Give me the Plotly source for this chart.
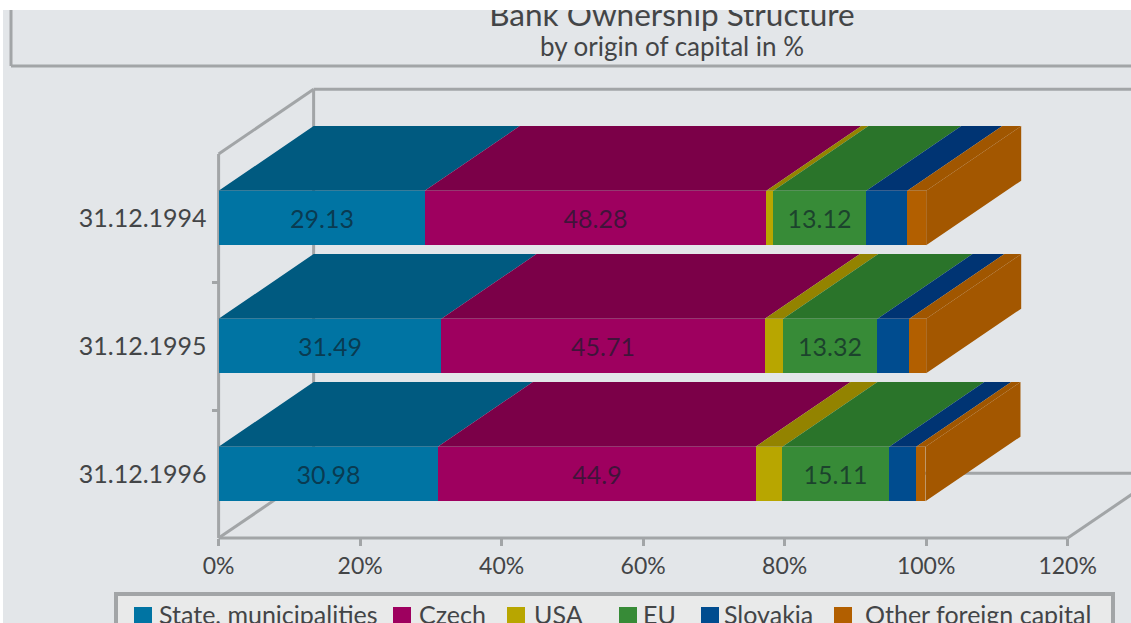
import plotly.graph_objects as go

# Reporting dates, top bar first
dates = ["31.12.1994", "31.12.1995", "31.12.1996"]

# Shares of bank capital by origin, in percent
state = [29.13, 31.49, 30.98]
czech = [48.28, 45.71, 44.9]
usa = [1.0, 2.6, 3.8]
eu = [13.12, 13.32, 15.11]
slovakia = [5.8, 4.5, 3.8]
other = [2.67, 2.38, 1.31]

series_names = ["State, municipalities", "Czech", "USA", "EU", "Slovakia", "Other foreign capital"]
series_values = [state, czech, usa, eu, slovakia, other]
labelled = [True, True, False, True, False, False]

front_colors = ["#0074A3", "#9E005F", "#B8A600", "#378B37", "#004C8F", "#B25F00"]
top_colors = ["#005A80", "#7B0048", "#938300", "#2A742A", "#003473", "#A05600"]
side_color = "#A35700"

x_ticks = [0, 20, 40, 60, 80, 100, 120]
x_tick_labels = ["0%", "20%", "40%", "60%", "80%", "100%", "120%"]

FONT = "Lato"
TEXT = "#434547"
GREY = "#A2A5A7"
BG = "#E3E6E9"

WIDTH, HEIGHT = 1131, 623
LEFT, TOP = 3, 10

# Axis windows: 7.075 px per percent, 128 px per category band
X_RANGE = [-30.47, 128.95]
Y_RANGE = [-1.164, 3.625]

# Oblique projection of the depth direction, in axis units
DEPTH_X = 13.43
DEPTH_Y = 0.505
BAR_WIDTH = 0.426
FLOOR, CEILING = -0.5, 2.5
X_MAX = 120

positions = [2, 1, 0]
half = BAR_WIDTH / 2


def polygons(corner_lists):
    xs, ys = [], []
    for corners in corner_lists:
        for cx, cy in corners + corners[:1]:
            xs.append(cx)
            ys.append(cy)
        xs.append(None)
        ys.append(None)
    return xs, ys


fig = go.Figure()

# Front faces are real stacked bars
for name, values, color, show in zip(series_names, series_values, front_colors, labelled):
    fig.add_trace(go.Bar(
        y=positions, x=values, orientation="h", width=BAR_WIDTH, name=name,
        marker=dict(color=color, line=dict(width=0)),
        text=[str(v) for v in values] if show else None,
        textposition="inside" if show else "none",
        insidetextanchor="middle", textangle=0, constraintext="none",
        textfont=dict(family=FONT, size=25, color="rgba(15,30,40,0.68)"),
        showlegend=False, hoverinfo="skip",
    ))

# Top faces follow the same cumulative values, shifted by the depth
starts = [0.0, 0.0, 0.0]
for name, values, color in zip(series_names, series_values, top_colors):
    corners = []
    for i, pos in enumerate(positions):
        a, b = starts[i], starts[i] + values[i]
        y = pos + half
        corners.append([(a, y), (b, y), (b + DEPTH_X, y + DEPTH_Y), (a + DEPTH_X, y + DEPTH_Y)])
        starts[i] = b
    xs, ys = polygons(corners)
    fig.add_trace(go.Scatter(
        x=xs, y=ys, mode="lines", fill="toself", fillcolor=color,
        line=dict(width=0), showlegend=False, hoverinfo="skip", name=name + " top",
    ))

# Right-hand end of each stack
corners = []
for i, pos in enumerate(positions):
    end = starts[i]
    corners.append([
        (end, pos - half), (end, pos + half),
        (end + DEPTH_X, pos + half + DEPTH_Y), (end + DEPTH_X, pos - half + DEPTH_Y),
    ])
xs, ys = polygons(corners)
fig.add_trace(go.Scatter(
    x=xs, y=ys, mode="lines", fill="toself", fillcolor=side_color,
    line=dict(width=0), showlegend=False, hoverinfo="skip", name="Stack end",
))

# Overlay in page pixels for the heading and the key, clipped at the plot edge
fig.add_trace(go.Scatter(
    x=[672, 672], y=[18, 49], xaxis="x2", yaxis="y2", mode="text",
    text=["Bank Ownership Structure", "by origin of capital in %"],
    textposition="middle center", cliponaxis=True,
    textfont=dict(family=FONT, size=[31.5, 26], color=TEXT),
    showlegend=False, hoverinfo="skip",
))

key_swatch_x = [143, 402, 516, 628, 710, 843]
key_text_x = [159, 419, 534, 643, 724, 865]
key_y = 616
fig.add_trace(go.Scatter(
    x=key_swatch_x, y=[key_y] * 6, xaxis="x2", yaxis="y2", mode="markers",
    marker=dict(symbol="square", size=18, color=front_colors, line=dict(width=0)),
    cliponaxis=True, showlegend=False, hoverinfo="skip",
))
fig.add_trace(go.Scatter(
    x=key_text_x, y=[key_y + 2] * 6, xaxis="x2", yaxis="y2", mode="text",
    text=series_names, textposition="middle right", cliponaxis=True,
    textfont=dict(family=FONT, size=25, color=TEXT),
    showlegend=False, hoverinfo="skip",
))

# The box walls sit behind every bar
wall = dict(type="line", xref="x", yref="y", layer="below", line=dict(color=GREY, width=3))
wall_segments = [
    (0, FLOOR, 0, CEILING),
    (0, FLOOR, X_MAX, FLOOR),
    (0, FLOOR, DEPTH_X, FLOOR + DEPTH_Y),
    (X_MAX, FLOOR, X_MAX + DEPTH_X, FLOOR + DEPTH_Y),
    (DEPTH_X, FLOOR + DEPTH_Y, X_MAX + DEPTH_X, FLOOR + DEPTH_Y),
    (DEPTH_X, CEILING + DEPTH_Y, X_MAX + DEPTH_X, CEILING + DEPTH_Y),
    (0, CEILING, DEPTH_X, CEILING + DEPTH_Y),
    (DEPTH_X, FLOOR + DEPTH_Y, DEPTH_X, CEILING + DEPTH_Y),
]
shapes = [dict(wall, x0=a, y0=b, x1=c, y1=d) for a, b, c, d in wall_segments]

# Frames around the heading and the key
frame = dict(xref="x2", yref="y2", line=dict(color=GREY, width=3))
shapes += [
    dict(frame, type="line", x0=11, y0=TOP, x1=11, y1=66),
    dict(frame, type="line", x0=11, y0=66, x1=WIDTH, y1=66),
    dict(xref="x2", yref="y2", type="rect", x0=116, y0=594, x1=1113, y1=660,
         fillcolor="#E9EAEA", layer="below", line=dict(color=GREY, width=4)),
]

plot_w = WIDTH - LEFT
plot_h = HEIGHT - TOP

fig.update_layout(
    width=WIDTH, height=HEIGHT, autosize=False,
    margin=dict(l=LEFT, r=0, t=TOP, b=0, pad=0),
    paper_bgcolor="white", plot_bgcolor=BG,
    barmode="stack", bargap=0,
    shapes=shapes,
    showlegend=False,
    xaxis=dict(
        domain=[0, 1], range=X_RANGE, anchor="free",
        position=(HEIGHT - 537.5) / plot_h,
        tickmode="array", tickvals=x_ticks, ticktext=x_tick_labels,
        ticks="outside", ticklen=7, tickwidth=3, tickcolor=GREY,
        ticklabelstandoff=1,
        tickfont=dict(family=FONT, size=23, color=TEXT),
        showgrid=False, zeroline=False, showline=False,
    ),
    yaxis=dict(
        domain=[0, 1], range=Y_RANGE, anchor="free",
        position=(218.6 - LEFT) / plot_w,
        tickmode="array", tickvals=positions, ticktext=dates,
        ticks="", ticklabelstandoff=12,
        tickfont=dict(family=FONT, size=25, color=TEXT),
        minor=dict(tickmode="array", tickvals=[0.5, 1.5], ticks="outside",
                   ticklen=7, tickwidth=3, tickcolor=GREY, showgrid=False),
        showgrid=False, zeroline=False, showline=False,
    ),
    xaxis2=dict(overlaying="x", range=[LEFT, WIDTH], visible=False, anchor="y2"),
    yaxis2=dict(overlaying="y", range=[HEIGHT, TOP], visible=False, anchor="x2"),
)

fig.write_html("out.html", config=dict(displayModeBar=False))
